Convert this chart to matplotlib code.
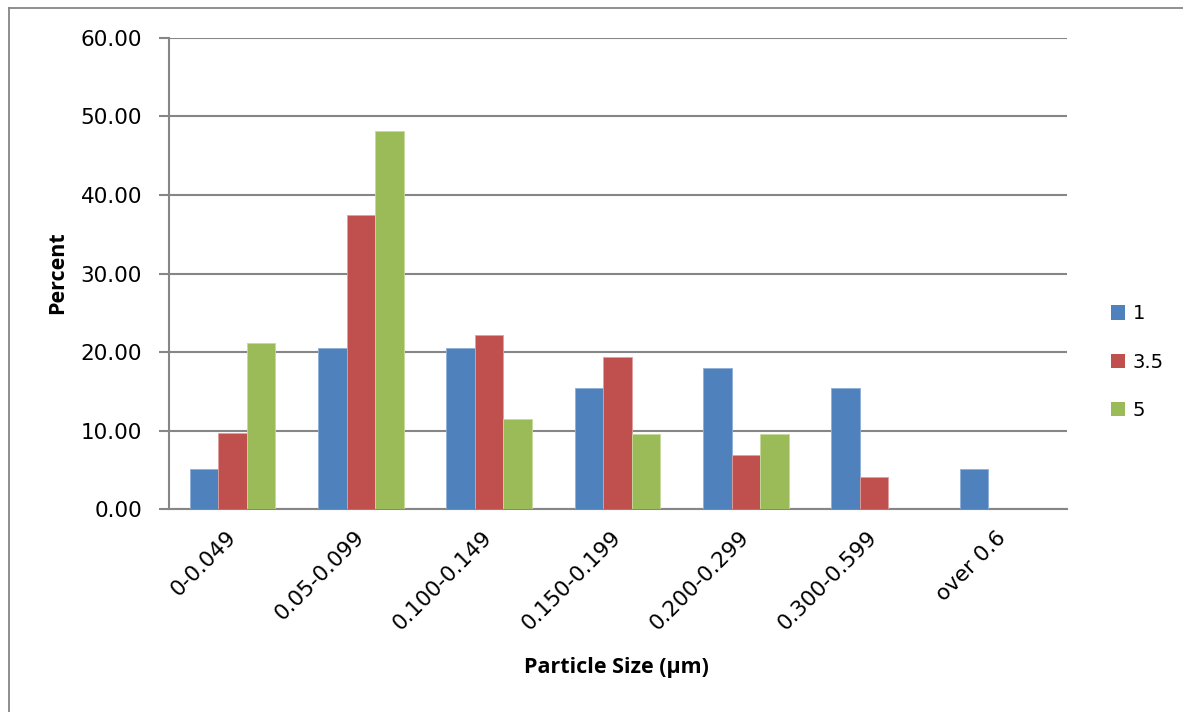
import numpy as np
import matplotlib.pyplot as plt
from matplotlib.lines import Line2D
from matplotlib.patches import Patch
from matplotlib.ticker import FormatStrFormatter

categories = ['0-0.049', '0.05-0.099', '0.100-0.149', '0.150-0.199',
              '0.200-0.299', '0.300-0.599', 'over 0.6']
series_names = ['1', '3.5', '5']
pct_1 = [5.13, 20.51, 20.51, 15.38, 17.95, 15.38, 5.13]
pct_35 = [9.72, 37.50, 22.22, 19.44, 6.94, 4.17, 0.00]
pct_5 = [21.15, 48.08, 11.54, 9.62, 9.62, 0.00, 0.00]

colors = ['#4F81BD', '#C0504D', '#9BBB59']
edges = ['#8FAFD8', '#E0A09E', '#C5DA9E']
grid_c = '#868686'

fig = plt.figure(figsize=(11.83, 7.12), dpi=100)
ax = fig.add_axes([168.5 / 1183, 1 - 509.3 / 712, 898 / 1183, 471.6 / 712])

x = np.arange(len(categories))
w = 1 / 4.5
for i, vals in enumerate([pct_1, pct_35, pct_5]):
    ax.bar(x + (i - 1) * w, vals, w, color=colors[i], edgecolor=edges[i],
           linewidth=0.6, zorder=3, label=series_names[i])

ax.set_xlim(-0.5, len(categories) - 0.5)
ax.set_ylim(0, 60)
ax.set_yticks(np.arange(0, 61, 10))
ax.yaxis.set_major_formatter(FormatStrFormatter('%.2f'))
ax.yaxis.grid(True, color=grid_c, lw=1.5, zorder=0)
ax.set_axisbelow(True)

for s in ['top', 'right']:
    ax.spines[s].set_visible(False)
for s in ['left', 'bottom']:
    ax.spines[s].set_color(grid_c)
    ax.spines[s].set_linewidth(1.5)

ax.tick_params(axis='y', length=7, width=1.5, color=grid_c, labelsize=15.5, pad=12)
ax.tick_params(axis='x', length=0, labelsize=15.5, pad=18)
ax.set_xticks(x)
ax.set_xticklabels(categories, rotation=45, ha='right', va='center',
                   rotation_mode='anchor')

fig.text(616 / 1183, 1 - 667 / 712, 'Particle Size (µm)', fontsize=15.5,
         fontweight='bold', family='Open Sans', ha='center', va='center')
fig.text(58 / 1183, 1 - 273 / 712, 'Percent', fontsize=15.5, fontweight='bold',
         family='Open Sans', rotation=90, ha='center', va='center')

handles = [Patch(facecolor=c) for c in colors]
fig.legend(handles, series_names, loc='center left',
           bbox_to_anchor=(1093 / 1183, 1 - 362 / 712), frameon=False,
           fontsize=14, handlelength=0.75, handleheight=0.75,
           handletextpad=0.4, labelspacing=1.5)

# outer chart border
fig.add_artist(Line2D([8.5 / 1183, 8.5 / 1183], [0, 1 - 7.5 / 712],
                      transform=fig.transFigure, color=grid_c, lw=1.3))
fig.add_artist(Line2D([8.5 / 1183, 1], [1 - 7.5 / 712, 1 - 7.5 / 712],
                      transform=fig.transFigure, color=grid_c, lw=1.3))

fig.savefig('out.png', dpi=100)
